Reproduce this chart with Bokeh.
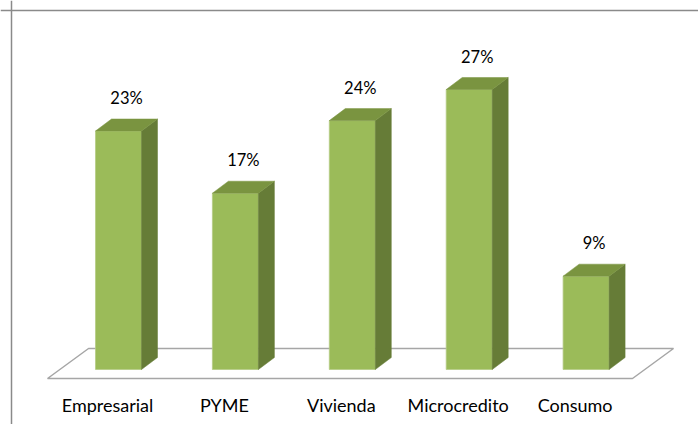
from bokeh.plotting import figure
from bokeh.models import Range1d, Span, ColumnDataSource
from bokeh.core.properties import value
from bokeh.embed import file_html
from bokeh.resources import INLINE

categories = ["Empresarial", "PYME", "Vivienda", "Microcredito", "Consumo"]
values = [23, 17, 24, 27, 9]
value_labels = ["23%", "17%", "24%", "27%", "9%"]

FRONT = "#9BBB59"
TOP = "#7A9440"
SIDE = "#667C37"
FONT = "Lato"

W, H = 698, 424
# pixel geometry helpers (data units)
px_x = 116.9     # pixels per category step
px_y = 10.37     # pixels per percent
x0 = 118         # pixel of category 0 within canvas
y0 = 369         # pixel of value 0 within canvas (from top)

p = figure(width=W, height=H, output_backend="svg", toolbar_location=None,
           x_range=Range1d(-x0 / px_x, (W - x0) / px_x),
           y_range=Range1d(-(H - y0) / px_y, y0 / px_y),
           min_border=0, min_border_left=0, min_border_right=0,
           min_border_top=0, min_border_bottom=0)
p.axis.visible = False
p.grid.visible = False
p.outline_line_color = None
p.background_fill_color = "white"
p.border_fill_color = "white"

bw = 46 / px_x
dx = 16 / px_x
dy = 12 / px_y
n = len(categories)
xs = list(range(n))

# outer chart border (left and top visible)
p.add_layout(Span(location=(11 - 118) / px_x, dimension="height", line_color="#8A8A8A", line_width=1.5))
p.add_layout(Span(location=(369 - 10) / px_y, dimension="width", line_color="#8A8A8A", line_width=1.5))

# floor
f_front = -9 / px_y
f_back = 21 / px_y
fl_l = -0.5 - 0.107
fl_r = (n - 1) + 0.5 - 0.103
fdx = 41 / px_x
p.patch([fl_l, fl_l + fdx, fl_r + fdx, fl_r], [f_front, f_back, f_back, f_front],
        fill_color="white", line_color="#A6A6A6", line_width=1.5)

# bars
front = ColumnDataSource(dict(left=[x - bw / 2 for x in xs], right=[x + bw / 2 for x in xs],
                              top=values, bottom=[0] * n))
p.quad(left="left", right="right", top="top", bottom="bottom", source=front,
       fill_color=FRONT, line_color="#B5CC85", line_width=0.8)

side_xs, side_ys, top_xs, top_ys = [], [], [], []
for x, v in zip(xs, values):
    r = x + bw / 2
    l = x - bw / 2
    side_xs.append([r, r + dx, r + dx, r])
    side_ys.append([0, dy, v + dy, v])
    top_xs.append([l, r, r + dx, l + dx])
    top_ys.append([v, v, v + dy, v + dy])
p.patches(side_xs, side_ys, fill_color=SIDE, line_color=SIDE, line_width=0.5)
p.patches(top_xs, top_ys, fill_color=TOP, line_color=TOP, line_width=0.5)

# value labels
lab = ColumnDataSource(dict(x=[x + dx / 2 for x in xs], y=[v + dy for v in values], t=value_labels))
p.text(x="x", y="y", text="t", source=lab, text_align="center", text_baseline="middle",
       y_offset=-21, text_font=value(FONT), text_font_size="16.5px", text_color="#000000")

# category labels
cat = ColumnDataSource(dict(x=[x - 11 / px_x for x in xs], y=[0] * n, t=categories))
p.text(x="x", y="y", text="t", source=cat, text_align="center", text_baseline="middle",
       y_offset=35, text_font=value(FONT), text_font_size="18px", text_color="#000000")

open("out.html", "w").write(file_html(p, INLINE))
